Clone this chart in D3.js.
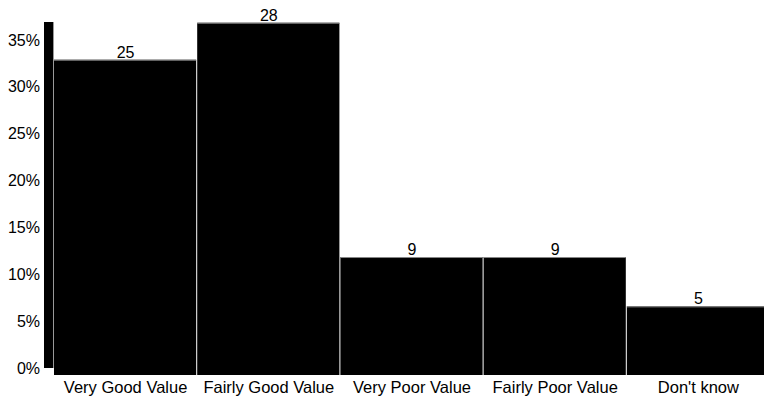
<!DOCTYPE html>
<html>
<head>
<meta charset="utf-8">
<script src="https://cdn.jsdelivr.net/npm/d3@7"></script>
<style>
  body { margin: 0; background: #fff; }
  text { font-family: "Liberation Sans", Arial, sans-serif; }
</style>
</head>
<body>
<svg id="chart" width="764" height="400"></svg>
<script>
// Survey answers: counts per category, bar height = share of total
const categories = ["Very Good Value", "Fairly Good Value", "Very Poor Value", "Fairly Poor Value", "Don't know"];
const counts = [25, 28, 9, 9, 5];
const yTicks = [0, 0.05, 0.10, 0.15, 0.20, 0.25, 0.30, 0.35];

const total = d3.sum(counts);
const data = categories.map((c, i) => ({ cat: c, n: counts[i], pct: counts[i] / total }));

const svg = d3.select("#chart");

const x = d3.scaleBand()
    .domain(categories)
    .range([54, 770])
    .padding(0);

const y = d3.scaleLinear()
    .domain([0, 0.35])
    .range([368, 40]);

/* ---- y axis: thick black bar ---- */
svg.append("rect")
    .attr("x", 44)
    .attr("y", 22)
    .attr("width", 9)
    .attr("height", y(0) - 22)
    .attr("fill", "#000");
svg.append("line")
    .attr("x1", 53.5).attr("x2", 53.5)
    .attr("y1", 22).attr("y2", y(0))
    .attr("stroke", "#999")
    .attr("stroke-width", 1);

const yAxis = d3.axisLeft(y)
    .tickValues(yTicks)
    .tickFormat(d3.format(".0%"))
    .tickSize(0)
    .tickPadding(0);

svg.append("g")
    .attr("transform", "translate(40,0)")
    .call(yAxis)
    .call(g => g.select(".domain").remove())
    .call(g => g.selectAll("text")
        .attr("font-size", "16px")
        .attr("font-family", "Liberation Sans, Arial, sans-serif")
        .attr("fill", "#000"));

/* ---- bars ---- */
svg.append("g")
    .selectAll("rect")
    .data(data)
    .join("rect")
    .attr("x", d => x(d.cat))
    .attr("y", d => y(d.pct))
    .attr("width", x.bandwidth() - 1)
    .attr("height", d => y(0) + 7 - y(d.pct))
    .attr("fill", "#000");

// light top edges
svg.append("g")
    .selectAll("line")
    .data(data)
    .join("line")
    .attr("x1", d => x(d.cat))
    .attr("x2", d => x(d.cat) + x.bandwidth() - 1)
    .attr("y1", d => y(d.pct) + 0.5)
    .attr("y2", d => y(d.pct) + 0.5)
    .attr("stroke", "#888")
    .attr("stroke-width", 1);

/* ---- value labels ---- */
svg.append("g")
    .selectAll("text")
    .data(data)
    .join("text")
    .attr("x", d => x(d.cat) + x.bandwidth() / 2)
    .attr("y", d => y(d.pct) - 2)
    .attr("text-anchor", "middle")
    .attr("font-size", "16px")
    .attr("fill", "#000")
    .text(d => d.n);

/* ---- category labels ---- */
svg.append("g")
    .selectAll("text")
    .data(data)
    .join("text")
    .attr("x", d => x(d.cat) + x.bandwidth() / 2)
    .attr("y", 393)
    .attr("text-anchor", "middle")
    .attr("font-size", "16.5px")
    .attr("fill", "#000")
    .text(d => d.cat);
</script>
</body>
</html>
